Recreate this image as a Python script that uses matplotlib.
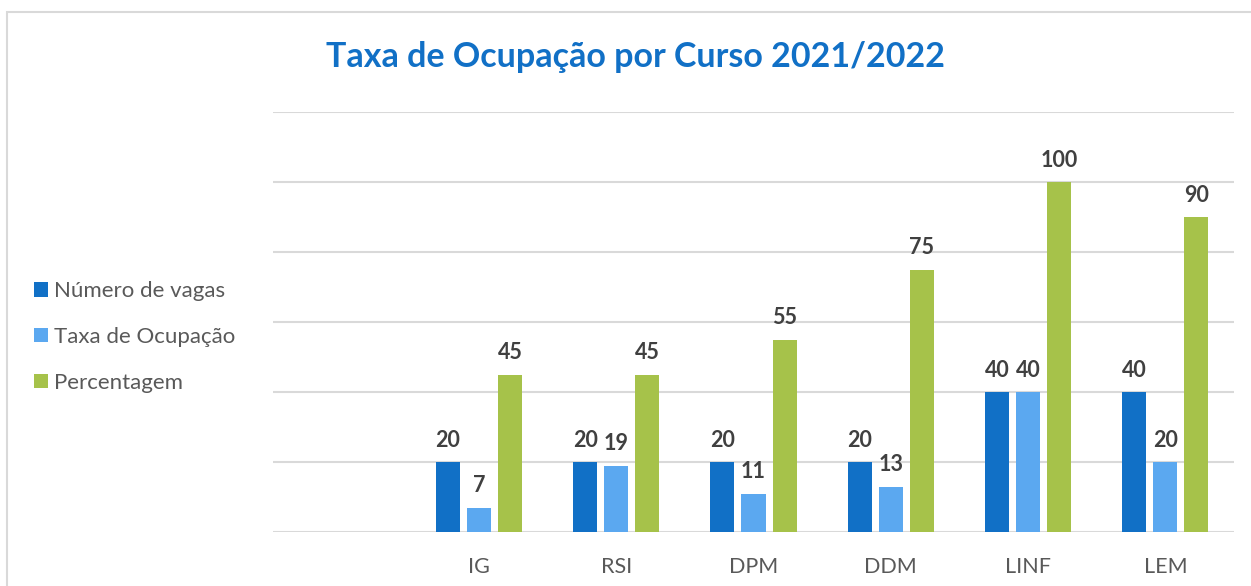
import numpy as np
import matplotlib
matplotlib.use("Agg")
import matplotlib.pyplot as plt
from matplotlib.patches import Rectangle

plt.rcParams['font.family'] = ['Lato', 'DejaVu Sans']

# chart data (first category is empty in the original chart)
cursos = ['', 'IG', 'RSI', 'DPM', 'DDM', 'LINF', 'LEM']
numero_vagas = [np.nan, 20, 20, 20, 20, 40, 40]
taxa_ocupacao = [np.nan, 7, 19, 11, 13, 40, 20]
percentagem = [np.nan, 45, 45, 55, 75, 100, 90]

series = [
    ('Número de vagas', numero_vagas, '#1170C6'),
    ('Taxa de Ocupação', taxa_ocupacao, '#5BA8F0'),
    ('Percentagem', percentagem, '#A6C24A'),
]

W, H = 1251, 586
fig = plt.figure(figsize=(W / 100, H / 100), dpi=100)

# outer chart frame
fig.patches.append(Rectangle((7 / W, -0.05), 1.2, (H - 12) / H + 0.05,
                             transform=fig.transFigure, fill=False,
                             edgecolor='#D9D9D9', lw=1.5))

ax = fig.add_axes([273 / W, (H - 532) / H, (1234 - 273) / W, (532 - 112) / H])

x = np.arange(len(cursos))
width = 0.175
step = 0.226
for i, (name, vals, col) in enumerate(series):
    pos = x + (i - 1) * step
    ax.bar(pos, vals, width, color=col, label=name, zorder=3)
    for p, v in zip(pos, vals):
        if np.isnan(v):
            continue
        ax.annotate(f'{v:g}', (p, v), xytext=(0, 8), textcoords='offset points',
                    ha='center', va='bottom', fontsize=15.5, fontweight='bold',
                    color='#404040')

ax.set_xlim(-0.5, len(cursos) - 0.5)
ax.set_ylim(0, 120)
ax.set_yticks(np.arange(0, 121, 20))
ax.yaxis.grid(True, color='#D9D9D9', lw=1.5, zorder=0)
ax.set_yticklabels([])
ax.tick_params(axis='y', length=0)
ax.set_xticks(x)
ax.set_xticklabels(cursos, fontsize=15.5, color='#595959')
ax.tick_params(axis='x', length=0, pad=18)
for s in ax.spines.values():
    s.set_visible(False)

fig.text(636 / W, 1 - 57 / H, 'Taxa de Ocupação por Curso 2021/2022',
         ha='center', va='center', fontsize=24.5, fontweight='bold', color='#1170C6')

fig.legend(loc='center left', bbox_to_anchor=(14 / W, 1 - 337 / H),
           frameon=False, fontsize=16, labelcolor='#595959',
           handlelength=0.62, handleheight=0.62, handletextpad=0.3,
           labelspacing=1.15)

fig.savefig('out.png', dpi=100)
